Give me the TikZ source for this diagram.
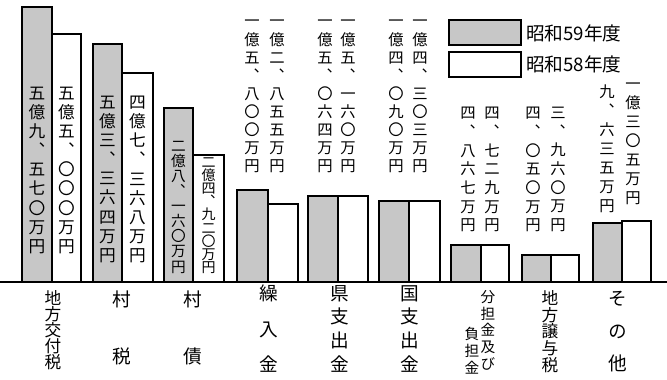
\documentclass[tikz,border=0pt]{standalone}
\usepackage{fontspec}
\newfontfamily\jp[RawFeature=+vert]{Noto Sans CJK JP}
\def\jpfont#1#2{\jp\fontsize{#1}{#2}\selectfont}

\begin{document}
\begin{tikzpicture}[x=0.75pt,y=0.75pt,yscale=-1,xscale=1,
		bar59/.style={draw=black, line width=1.1pt, fill=black!22},
		bar58/.style={draw=black, line width=1.1pt, fill=white},
		tate/.style={anchor=north, inner sep=0pt, align=center},
		amount/.style={tate, font=\jpfont{12.5}{14.3}},
		amounttop/.style={tate, font=\jpfont{11.5}{13.6}},
		koumoku/.style={tate, font=\jpfont{12.5}{12}}]
		\useasboundingbox (0,0) rectangle (667,379);
		% bars, 59 shaded, 58 white
		\draw [bar59] (22,282) rectangle (52,7);
		\draw [bar58] (52,282) rectangle (81,34);
		\draw [bar59] (93,282) rectangle (122,44);
		\draw [bar58] (122,282) rectangle (153,73);
		\draw [bar59] (164,282) rectangle (193,108);
		\draw [bar58] (193,282) rectangle (224,155);
		\draw [bar59] (237,282) rectangle (268,190);
		\draw [bar58] (268,282) rectangle (298,204);
		\draw [bar59] (308,282) rectangle (338,196);
		\draw [bar58] (338,282) rectangle (368,196);
		\draw [bar59] (379,282) rectangle (409,201);
		\draw [bar58] (409,282) rectangle (440,201);
		\draw [bar59] (451,282) rectangle (481,245);
		\draw [bar58] (481,282) rectangle (509,245);
		\draw [bar59] (522,282) rectangle (551,255);
		\draw [bar58] (551,282) rectangle (579,255);
		\draw [bar59] (593,282) rectangle (622,223);
		\draw [bar58] (622,282) rectangle (651,221);
		\draw [line width=1pt] (0,282) -- (667,282);
		% legend
		\draw [bar59] (449,20) rectangle (521,45);
		\draw [bar58] (449,52) rectangle (521,77);
		\draw (526,33) node (leg59) [anchor=west, inner sep=0pt, font=\jpfont{14}{15}] {昭和59年度};
		\draw (526,64) node (leg58) [anchor=west, inner sep=0pt, font=\jpfont{14}{15}] {昭和58年度};
		% amounts inside the bars
		\draw (37,87) node (koufu59) [amount] {五\\億\\九\\、\\五\\七\\〇\\万\\円};
		\draw (66.5,87) node (koufu58) [amount] {五\\億\\五\\、\\〇\\〇\\〇\\万\\円};
		\draw (107.5,96) node (zei59) [amount] {五\\億\\三\\、\\三\\六\\四\\万\\円};
		\draw (137.5,96) node (zei58) [amount] {四\\億\\七\\、\\三\\六\\八\\万\\円};
		\draw (178.5,141) node (sai59) [amount, font=\jpfont{11}{11.3}] {二\\億\\八\\、\\一\\六\\〇\\万\\円};
		\draw (208.5,157) node (sai58) [amount, font=\jpfont{10.5}{9.9}] {二\\億\\四\\、\\九\\二\\〇\\万\\円};
		% amounts above the bars
		\draw (252,20) node (kuri59) [amounttop] {一\\億\\五\\、\\八\\〇\\〇\\万\\円};
		\draw (277,20) node (kuri58) [amounttop] {一\\億\\二\\、\\八\\五\\五\\万\\円};
		\draw (325,20) node (ken59) [amounttop] {一\\億\\五\\、\\〇\\六\\四\\万\\円};
		\draw (348,20) node (ken58) [amounttop] {一\\億\\五\\、\\一\\六\\〇\\万\\円};
		\draw (396,20) node (kuni59) [amounttop] {一\\億\\四\\、\\〇\\九\\〇\\万\\円};
		\draw (420,20) node (kuni58) [amounttop] {一\\億\\四\\、\\三\\〇\\三\\万\\円};
		\draw (468,107) node (futan59) [amounttop, font=\jpfont{11.5}{14}] {四\\、\\八\\六\\七\\万\\円};
		\draw (492,107) node (futan58) [amounttop, font=\jpfont{11.5}{14}] {四\\、\\七\\二\\九\\万\\円};
		\draw (533,107) node (jouyo59) [amounttop, font=\jpfont{11.5}{14}] {四\\、\\〇\\五\\〇\\万\\円};
		\draw (558,107) node (jouyo58) [amounttop, font=\jpfont{11.5}{14}] {三\\、\\九\\六\\〇\\万\\円};
		\draw (607,85) node (sonota59) [amounttop, font=\jpfont{11.5}{14.2}] {九\\、\\六\\三\\五\\万\\円};
		\draw (633,83) node (sonota58) [amounttop, font=\jpfont{11.5}{14.2}] {一\\億\\三\\〇\\五\\万\\円};
		% item names under the axis
		\draw (53,290) node (nKoufu) [koumoku] {地\\方\\交\\付\\税};
		\draw (122,291) node (nZei) [koumoku, font=\jpfont{14}{42.5}] {村\\税};
		\draw (193,291) node (nSai) [koumoku, font=\jpfont{14}{42.5}] {村\\債};
		\draw (269,285) node (nKuri) [koumoku, font=\jpfont{14}{26.5}] {繰\\入\\金};
		\draw (340,285) node (nKen) [koumoku, font=\jpfont{14}{17.8}] {県\\支\\出\\金};
		\draw (410,285) node (nKuni) [koumoku, font=\jpfont{14}{17.8}] {国\\支\\出\\金};
		\draw (488,290) node (nFutan) [koumoku, font=\jpfont{11}{12.6}] {分\\担\\金\\及\\び};
		\draw (472,327) node (nFutanb) [koumoku, font=\jpfont{11}{12.6}] {負\\担\\金};
		\draw (550,290) node (nJouyo) [koumoku, font=\jpfont{12.5}{12.6}] {地\\方\\譲\\与\\税};
		\draw (618,291) node (nSonota) [koumoku, font=\jpfont{14}{24.5}] {そ\\の\\他};
	\end{tikzpicture}
\end{document}
